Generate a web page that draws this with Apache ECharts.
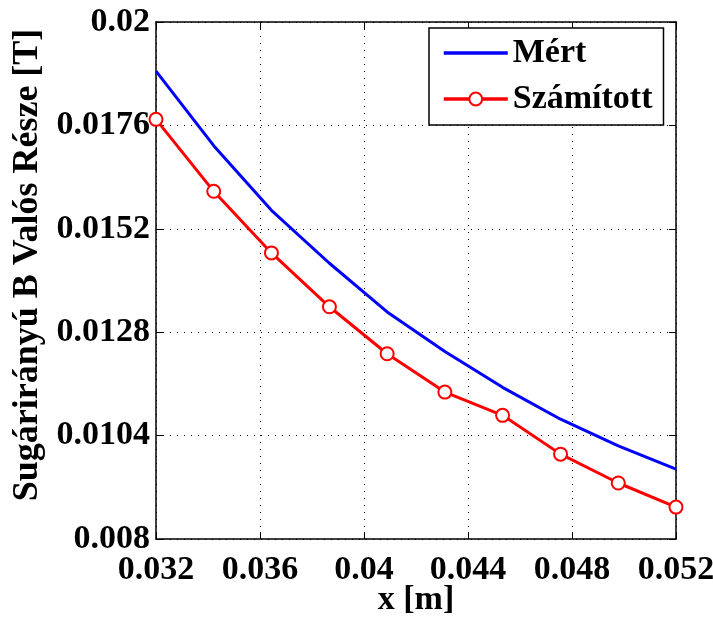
<!DOCTYPE html>
<html>
<head>
<meta charset="utf-8">
<script src="https://cdn.jsdelivr.net/npm/echarts@6/dist/echarts.min.js"></script>
<style>html,body{margin:0;padding:0;background:#fff}#c{width:713px;height:617px}</style>
</head>
<body>
<div id="c"></div>
<script>
var xValues = [0.032, 0.03422, 0.03644, 0.03867, 0.04089, 0.04311, 0.04533, 0.04756, 0.04978, 0.052];
var mertValues = [0.01886, 0.01713, 0.01563, 0.01440, 0.01327, 0.01235, 0.01152, 0.01078, 0.01016, 0.00962];
var szamitottValues = [0.01774, 0.01607, 0.01464, 0.01339, 0.01230, 0.01141, 0.01087, 0.00997, 0.00930, 0.00874];
var seriesNames = ['Mért', 'Számított'];
var xTitle = 'x [m]';
var yTitle = 'Sugárirányú B Valós Része [T]';

var FONT = 'Liberation Serif';
function fmt(v){ return parseFloat(v.toFixed(4)).toString(); }
function pairs(xs, ys){ return xs.map(function(x,i){ return [x, ys[i]]; }); }

var chart = echarts.init(document.getElementById('c'));
var axisLineStyle = {color:'#000', width:1.5};
chart.setOption({
  animation:false,
  backgroundColor:'#fff',
  grid:{left:156, right:37, top:22, bottom:78, containLabel:false, outerBoundsMode:'none'},
  legend:{
    orient:'vertical', left:429, top:28,
    data:[{name:seriesNames[0], itemStyle:{opacity:0}, lineStyle:{width:3.5}},
          {name:seriesNames[1], lineStyle:{width:3.5}}],
    itemWidth:64, itemHeight:16, itemGap:12,
    padding:[8,11,9,13],
    borderColor:'#000', borderWidth:1.5, backgroundColor:'#fff',
    textStyle:{fontFamily:FONT, fontWeight:'bold', fontSize:34, color:'#000'}
  },
  xAxis:[{
    type:'value', min:0.032, max:0.052, interval:0.004,
    axisLine:{show:true, lineStyle:axisLineStyle},
    axisTick:{show:true, inside:true, length:7, lineStyle:{color:'#000'}},
    axisLabel:{fontFamily:FONT, fontWeight:'bold', fontSize:34, color:'#000', margin:14, formatter:fmt, hideOverlap:false},
    splitLine:{show:true, lineStyle:{color:'#000', type:[1,6], width:1}}
  },{
    type:'value', position:'top', min:0.032, max:0.052, interval:0.004,
    axisLine:{show:true, lineStyle:axisLineStyle},
    axisTick:{show:true, inside:true, length:7, lineStyle:{color:'#000'}},
    axisLabel:{show:false}, splitLine:{show:false}
  }],
  yAxis:[{
    type:'value', min:0.008, max:0.02, interval:0.0024,
    axisLine:{show:true, lineStyle:axisLineStyle},
    axisTick:{show:true, inside:true, length:7, lineStyle:{color:'#000'}},
    axisLabel:{fontFamily:FONT, fontWeight:'bold', fontSize:34, color:'#000', margin:6, formatter:fmt},
    splitLine:{show:true, lineStyle:{color:'#000', type:[1,6], width:1}}
  },{
    type:'value', position:'right', min:0.008, max:0.02, interval:0.0024,
    axisLine:{show:true, lineStyle:axisLineStyle},
    axisTick:{show:true, inside:true, length:7, lineStyle:{color:'#000'}},
    axisLabel:{show:false}, splitLine:{show:false}
  }],
  graphic:[{
    type:'text', x:28, y:265, rotation:Math.PI/2,
    style:{text:yTitle, fontFamily:FONT, fontWeight:'bold', fontSize:36, fill:'#000', align:'center', verticalAlign:'middle'}
  },{
    type:'text', x:416, y:600,
    style:{text:xTitle, fontFamily:FONT, fontWeight:'bold', fontSize:34, fill:'#000', align:'center', verticalAlign:'middle'}
  }],
  series:[{
    name:seriesNames[0], type:'line', data:pairs(xValues, mertValues),
    showSymbol:false, symbol:'circle',
    lineStyle:{color:'#0000ff', width:3}, itemStyle:{color:'#0000ff'}
  },{
    name:seriesNames[1], type:'line', data:pairs(xValues, szamitottValues),
    symbol:'emptyCircle', symbolSize:13,
    lineStyle:{color:'#ff0000', width:3},
    itemStyle:{color:'#ff0000', borderColor:'#ff0000', borderWidth:3}
  }]
});
</script>
</body>
</html>
